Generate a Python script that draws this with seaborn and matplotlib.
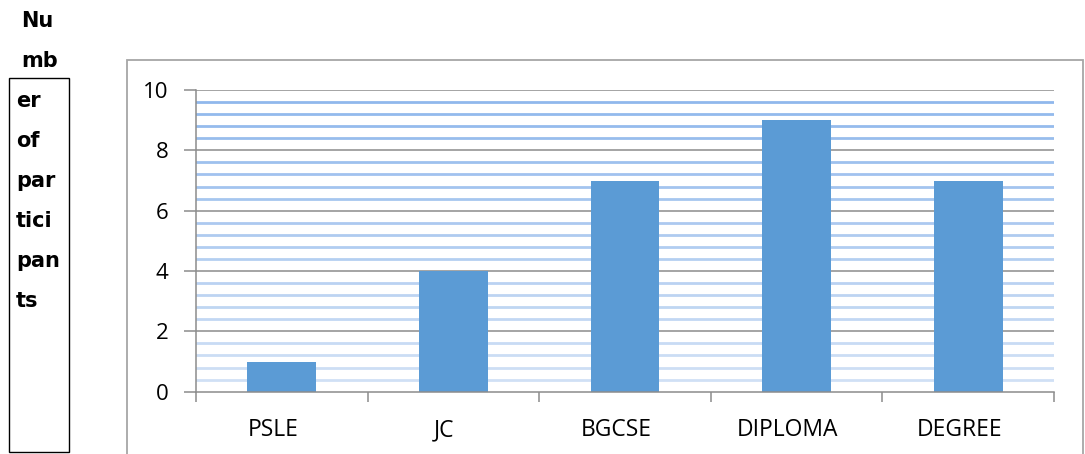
import numpy as np
import pandas as pd
import matplotlib
matplotlib.use("Agg")
import matplotlib.pyplot as plt
import matplotlib.colors as mcolors
import matplotlib.transforms as mtransforms
from matplotlib.patches import Rectangle
from matplotlib.ticker import MultipleLocator, FixedLocator
import seaborn as sns

# Highest qualification of participants
categories = ["PSLE", "JC", "BGCSE", "DIPLOMA", "DEGREE"]
participants = [1, 4, 7, 9, 7]
title_lines = ["Nu", "mb", "er", "of", "par", "tici", "pan", "ts"]

sns.set_theme(style="white")
plt.rcParams["font.family"] = ["Open Sans", "DejaVu Sans"]

df = pd.DataFrame({"level": categories, "count": participants})

W, H = 1085, 454
fig = plt.figure(figsize=(W / 100, H / 100), dpi=100)
ax = fig.add_axes([196 / W, 1 - 391.7 / H, (1054 - 196) / W, (391.7 - 90) / H])

# Outer chart frame (runs past the bottom edge)
fig.patches.append(Rectangle((127 / W, -0.05), (1083 - 127) / W, 1.05 - 60.5 / H,
                             transform=fig.transFigure, fill=False,
                             edgecolor="#A6A6A6", linewidth=1.3, zorder=0))

ax.set_ylim(0, 10)
ax.set_xlim(-0.5, len(categories) - 0.5)
ax.yaxis.set_major_locator(MultipleLocator(2))
ax.yaxis.set_minor_locator(MultipleLocator(0.4))

# Blue striped minor gridlines, fading lighter toward the baseline
minor = [v for v in ax.yaxis.get_minor_locator().tick_values(0, 10)
         if 0 < v < 10 and abs(v / 2 - round(v / 2)) > 1e-6]
top_c = np.array(mcolors.to_rgb("#8DB6EC"))
bot_c = np.array(mcolors.to_rgb("#D3E2F5"))
for v in minor:
    t = v / 10
    c = bot_c + (top_c - bot_c) * t
    ax.axhline(v, color=c, linewidth=2.0, zorder=0.5)

# Major gridlines
for v in ax.yaxis.get_major_locator().tick_values(0, 10):
    if 0 < v <= 10:
        ax.axhline(v, color="#8C8C8C", linewidth=1.1, zorder=0.6)

sns.barplot(data=df, x="level", y="count", color="#5B9BD5", saturation=1,
            width=0.4, ax=ax, zorder=2, linewidth=0, edgecolor="none")

ax.set_xlabel("")
ax.set_ylabel("")

for s in ["top", "right"]:
    ax.spines[s].set_visible(False)
for s in ["left", "bottom"]:
    ax.spines[s].set_color("#8C8C8C")
    ax.spines[s].set_linewidth(1.1)

# Category boundary tick marks on the x axis
ax.xaxis.set_minor_locator(FixedLocator(np.arange(-0.5, len(categories), 1.0)))
ax.tick_params(axis="x", which="major", length=0, pad=19, labelsize=16.5, colors="#000000")
ax.tick_params(axis="x", which="minor", length=7, width=1.1, color="#8C8C8C", bottom=True)
ax.tick_params(axis="y", which="major", length=9, width=1.1, color="#8C8C8C",
               left=True, pad=11, labelsize=16, labelcolor="#000000")
ax.tick_params(axis="y", which="minor", length=0)

# Category labels sit slightly left of the bar centres
shift = mtransforms.ScaledTranslation(-9 / 100, 0, fig.dpi_scale_trans)
for lbl in ax.get_xticklabels():
    lbl.set_transform(lbl.get_transform() + shift)

# Vertical axis title in a narrow text box
fig.patches.append(Rectangle((8.5 / W, 2 / H), (69 - 8.5) / W, (452 - 77.5) / H,
                             transform=fig.transFigure, fill=False,
                             edgecolor="#000000", linewidth=1.0))
for i, word in enumerate(title_lines):
    x = 21 / W if i < 2 else 16 / W
    y = 1 - (21 + 40 * i) / H
    fig.text(x, y, word, fontsize=15, fontweight="bold", ha="left", va="center",
             color="#000000", family="DejaVu Sans")

fig.savefig("out.png", dpi=100)
